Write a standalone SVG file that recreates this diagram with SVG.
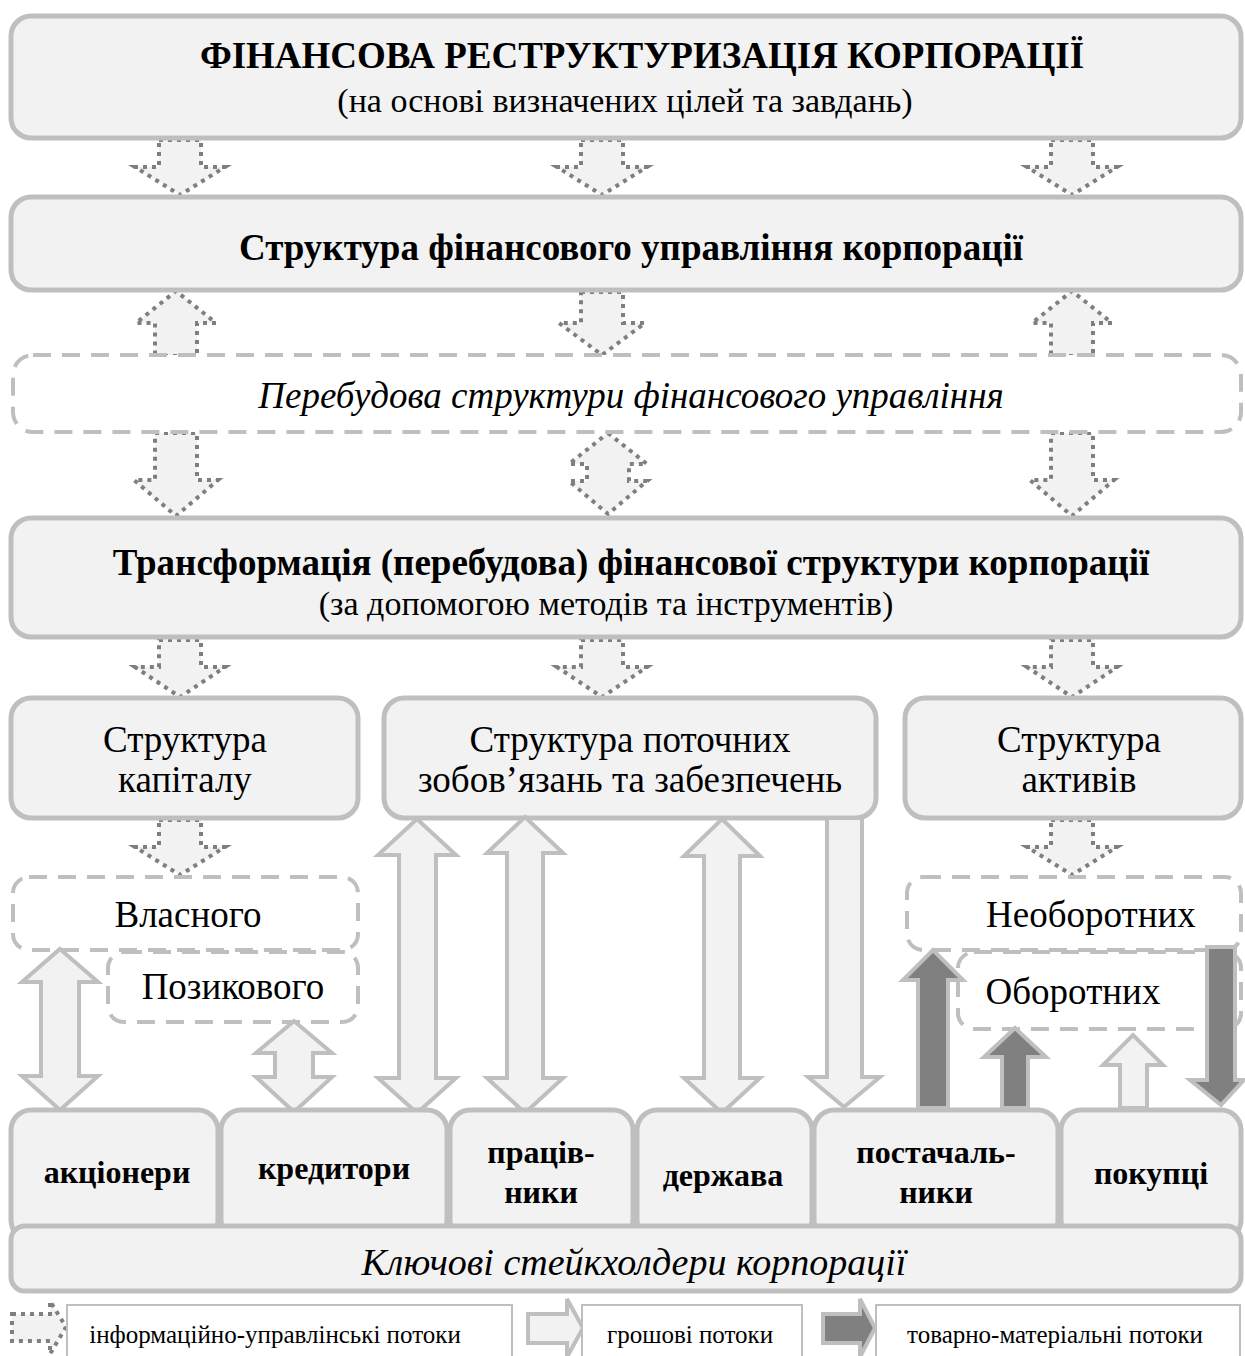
<svg xmlns="http://www.w3.org/2000/svg" width="1245" height="1356" viewBox="0 0 1245 1356">
<style>
.box{fill:#f2f2f2;stroke:#bfbfbf;stroke-width:5}
.dbox{fill:#ffffff;stroke:#bfbfbf;stroke-width:4;stroke-dasharray:18 11}
.info{fill:#f2f2f2;stroke:#7f7f7f;stroke-width:4;stroke-dasharray:4 5}
.money{fill:#f2f2f2;stroke:#bfbfbf;stroke-width:4}
.goods{fill:#808080;stroke:#bfbfbf;stroke-width:4}
.leg{fill:#ffffff;stroke:#bfbfbf;stroke-width:2}
text{font-family:"Liberation Serif","Times New Roman",serif;fill:#000;text-anchor:middle}
.b{font-weight:bold}
.i{font-style:italic}
.h{font-size:37px}
.s{font-size:34px}
.n{font-size:37px}
.k{font-size:32px;font-weight:bold}
.l{font-size:25px}
</style>
<g id="connectors">
<path class="info" d="M159,140 H201 V167 H225 L180,195 L135,167 H159 Z"/>
<path class="info" d="M581,140 H623 V167 H647 L602,195 L557,167 H581 Z"/>
<path class="info" d="M1051,140 H1093 V167 H1117 L1072,195 L1027,167 H1051 Z"/>
<path class="info" d="M155,356 H197 V323 H216 L176,291 L136,323 H155 Z"/>
<path class="info" d="M581,292 H623 V323 H645 L602,355 L559,323 H581 Z"/>
<path class="info" d="M1051,356 H1093 V323 H1112 L1072,291 L1032,323 H1051 Z"/>
<path class="info" d="M155,433 H197 V480 H218 L176,516 L134,480 H155 Z"/>
<path class="info" d="M608,433 L647,464 H629 V481 H647 L608,514 L569,481 H587 V464 H569 Z"/>
<path class="info" d="M1051,433 H1093 V480 H1114 L1072,516 L1030,480 H1051 Z"/>
<path class="info" d="M159,640 H201 V667 H225 L180,697 L135,667 H159 Z"/>
<path class="info" d="M581,640 H623 V667 H647 L602,697 L557,667 H581 Z"/>
<path class="info" d="M1051,640 H1093 V667 H1117 L1072,697 L1027,667 H1051 Z"/>
<path class="info" d="M159,820 H201 V847 H225 L180,875 L135,847 H159 Z"/>
<path class="info" d="M1051,820 H1093 V847 H1117 L1072,875 L1027,847 H1051 Z"/>
</g>
<g id="top-box">
<rect class="box" x="11" y="16" width="1230" height="122" rx="20"/>
<text class="b h" x="642" y="68">ФІНАНСОВА РЕСТРУКТУРИЗАЦІЯ КОРПОРАЦІЇ</text>
<text class="s" x="625" y="112">(на основі визначених цілей та завдань)</text>
</g>
<g id="fin-management">
<rect class="box" x="11" y="197" width="1230" height="93" rx="20"/>
<text class="b h" x="631" y="260">Структура фінансового управління корпорації</text>
</g>
<g id="restructure-management">
<rect class="dbox" x="13" y="355" width="1228" height="77" rx="20"/>
<text class="i h" x="631" y="408">Перебудова структури фінансового управління</text>
</g>
<g id="transformation">
<rect class="box" x="11" y="518" width="1230" height="119" rx="20"/>
<text class="b h" x="631" y="575">Трансформація (перебудова) фінансової структури корпорації</text>
<text class="s" x="606" y="615">(за допомогою методів та інструментів)</text>
</g>
<g id="capital">
<rect class="box" x="11" y="698" width="347" height="120" rx="20"/>
<text class="n" x="185" y="752">Структура</text>
<text class="n" x="185" y="792">капіталу</text>
</g>
<g id="liabilities">
<rect class="box" x="384" y="698" width="492" height="120" rx="20"/>
<text class="n" x="630" y="752">Структура поточних</text>
<text class="n" x="630" y="792">зобов’язань та забезпечень</text>
</g>
<g id="assets">
<rect class="box" x="905" y="698" width="336" height="120" rx="20"/>
<text class="n" x="1079" y="752">Структура</text>
<text class="n" x="1079" y="792">активів</text>
</g>
<g id="own">
<rect class="dbox" x="13" y="877" width="345" height="73" rx="16"/>
<text class="n" x="188" y="927">Власного</text>
</g>
<g id="borrowed">
<rect class="dbox" x="108" y="952" width="250" height="70" rx="16"/>
<text class="n" x="233" y="999">Позикового</text>
</g>
<g id="noncurrent">
<rect class="dbox" x="907" y="877" width="334" height="73" rx="16"/>
<text class="n" x="1091" y="927">Необоротних</text>
</g>
<g id="current">
<rect class="dbox" x="958" y="952" width="283" height="77" rx="16"/>
<text class="n" x="1073" y="1004">Оборотних</text>
</g>
<g id="flows">
<path class="money" d="M60,949 L98,982 H79 V1076 H98 L60,1110 L22,1076 H41 V982 H22 Z"/>
<path class="money" d="M294,1021 L332,1053 H313 V1077 H332 L294,1112 L256,1077 H275 V1053 H256 Z"/>
<path class="money" d="M417,819 L456,855 H436 V1078 H456 L417,1113 L378,1078 H399 V855 H378 Z"/>
<path class="money" d="M525,817 L563,853 H543 V1078 H563 L525,1113 L487,1078 H507 V853 H487 Z"/>
<path class="money" d="M722,819 L760,856 H740 V1078 H760 L722,1113 L684,1078 H704 V856 H684 Z"/>
<path class="money" d="M827,818 H862 V1077 H880 L844,1107 L808,1077 H827 Z"/>
<path class="money" d="M1120,1108 V1065 H1103 L1133,1035 L1163,1065 H1147 V1108 Z"/>
<path class="goods" d="M918,1108 V980 H903 L933,950 L963,980 H948 V1108 Z"/>
<path class="goods" d="M1002,1108 V1057 H984 L1015,1028 L1046,1057 H1028 V1108 Z"/>
<path class="goods" d="M1207,947 H1235 V1080 H1244 L1221,1105 L1190,1080 H1207 Z"/>
</g>
<g id="shareholders">
<rect class="box" x="11" y="1110" width="207" height="130" rx="20"/>
<text class="k" x="117" y="1183">акціонери</text>
</g>
<g id="creditors">
<rect class="box" x="221" y="1110" width="226" height="130" rx="20"/>
<text class="k" x="334" y="1179">кредитори</text>
</g>
<g id="employees">
<rect class="box" x="450" y="1110" width="183" height="130" rx="20"/>
<text class="k" x="541" y="1163">праців-</text>
<text class="k" x="541" y="1203">ники</text>
</g>
<g id="state">
<rect class="box" x="637" y="1110" width="175" height="130" rx="20"/>
<text class="k" x="723" y="1186">держава</text>
</g>
<g id="suppliers">
<rect class="box" x="814" y="1110" width="244" height="130" rx="20"/>
<text class="k" x="936" y="1163">постачаль-</text>
<text class="k" x="936" y="1203">ники</text>
</g>
<g id="buyers">
<rect class="box" x="1061" y="1110" width="180" height="130" rx="20"/>
<text class="k" x="1151" y="1184">покупці</text>
</g>
<g id="stakeholders">
<rect class="box" x="11" y="1226" width="1230" height="65" rx="14"/>
<text class="i" x="634" y="1275" font-size="38">Ключові стейкхолдери корпорації</text>
</g>
<g id="legend">
<path class="info" d="M12,1314 H50 V1301 L66,1327 L50,1354 V1341 H12 Z"/>
<rect class="leg" x="67" y="1305" width="445" height="70"/>
<text class="l" x="275" y="1343">інформаційно-управлінські потоки</text>
<path class="money" d="M528,1314 H567 V1299 L583,1328 L567,1357 V1343 H528 Z"/>
<rect class="leg" x="582" y="1305" width="220" height="70"/>
<text class="l" x="690" y="1343">грошові потоки</text>
<path class="goods" d="M823,1314 H860 V1299 L875,1328 L860,1357 V1343 H823 Z"/>
<rect class="leg" x="876" y="1305" width="364" height="70"/>
<text class="l" x="1055" y="1343">товарно-матеріальні потоки</text>
</g>
</svg>
